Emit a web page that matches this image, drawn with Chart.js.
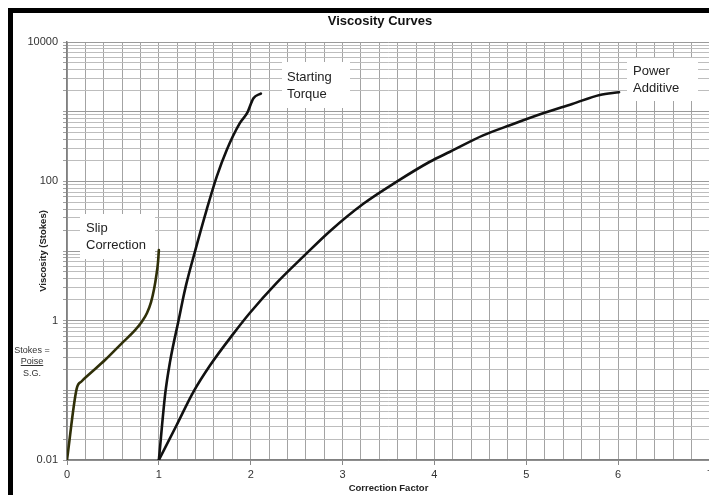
<!DOCTYPE html>
<html><head><meta charset="utf-8">
<script src="https://cdn.jsdelivr.net/npm/chart.js@4/dist/chart.umd.min.js"></script>
<style>
html,body{margin:0;padding:0;background:#fff;overflow:hidden;width:709px;height:495px;}
#wrap{position:absolute;left:0;top:0;width:760px;height:495px;}
.bar{position:absolute;background:#000;z-index:2;}
</style></head><body>
<div id="wrap"><canvas id="c" width="760" height="495" style="width:760px;height:495px"></canvas></div>
<div class="bar" style="left:8px;top:8px;width:701px;height:5px"></div>
<div class="bar" style="left:8px;top:8px;width:5px;height:487px"></div>
<script>
// ---- data ----
const slipX = [0, 0.105, 0.16, 0.232, 0.414, 0.596, 0.741, 0.82, 0.871, 0.915, 0.948, 0.975, 0.991, 1.0];
const slipY = [0.01, 0.105, 0.135, 0.166, 0.272, 0.473, 0.73, 0.99, 1.29, 1.85, 2.84, 4.68, 6.95, 10.3];

const torqueX = [1.0, 1.07, 1.12, 1.223, 1.26, 1.30, 1.39, 1.52, 1.63, 1.74, 1.88, 1.96, 2.03, 2.11];
const torqueY = [0.01, 0.091, 0.25, 1.14, 1.98, 3.4, 9.5, 39, 117, 285, 680, 950, 1560, 1820];

const powerX = [1.0, 1.19, 1.376, 1.558, 1.81, 1.99, 2.28, 2.58, 2.865, 3.23, 3.59, 3.95, 4.17, 4.53, 4.83, 5.19, 5.5, 5.8, 6.01];
const powerY = [0.01, 0.031, 0.095, 0.229, 0.647, 1.29, 3.46, 8.5, 19.4, 48, 99, 191, 266, 457, 645, 955, 1290, 1740, 1900];

const xTickLabels = [0, 1, 2, 3, 4, 5, 6, 7];
const yTickLabels = [0.01, 1, 100, 10000];

const seriesNames = ['Slip Correction', 'Starting Torque', 'Power Additive'];
const noteLabels = [
  {lines: ['Slip', 'Correction'], x: 0.207, y: 18.8, box: [-6, -18, 75, 45]},
  {lines: ['Starting', 'Torque'], x: 2.40, y: 2750, box: [-5, -19, 68, 46]},
  {lines: ['Power', 'Additive'], x: 6.166, y: 3360, box: [-6, -17, 71, 43]}
];
const stokesNote = ['Stokes =', 'Poise', 'S.G.'];

// ---- helpers ----
const pts = (xs, ys) => xs.map((x, i) => ({x: x, y: ys[i]}));
const xGrid = []; for (let k = 0; k <= 35; k++) xGrid.push(k / 5);
const yGrid = []; for (let e = -2; e <= 4; e++) { for (let m = 1; m <= 9; m++) { const v = m * Math.pow(10, e); if (v <= 10000 * 1.0001) yGrid.push(Number(v.toPrecision(6))); } }
const isDecade = v => Math.abs(Math.log10(v) - Math.round(Math.log10(v))) < 1e-9;
const isInt = v => Math.abs(v - Math.round(v)) < 1e-6;

const notesPlugin = {
  id: 'notes',
  beforeDatasetsDraw(chart) {
    const {ctx, scales: {x, y}} = chart;
    ctx.save();
    ctx.font = '13px "Liberation Sans", Arial, sans-serif';
    ctx.textBaseline = 'alphabetic';
    ctx.textAlign = 'left';
    noteLabels.forEach(n => {
      const px = Math.round(x.getPixelForValue(n.x));
      const py = Math.round(y.getPixelForValue(n.y));
      ctx.fillStyle = '#fff';
      ctx.fillRect(px + n.box[0], py + n.box[1], n.box[2], n.box[3]);
      ctx.fillStyle = '#222';
      n.lines.forEach((t, i) => ctx.fillText(t, px, py + i * 16.5));
    });
    ctx.restore();
  },
  afterDraw(chart) {
    const {ctx} = chart;
    ctx.save();
    ctx.font = '9px "Liberation Sans", Arial, sans-serif';
    ctx.fillStyle = '#333';
    ctx.textAlign = 'center';
    ctx.textBaseline = 'alphabetic';
    const cx = 32;
    ctx.fillText(stokesNote[0], cx, 352.5);
    ctx.fillText(stokesNote[1], cx, 364);
    const w = ctx.measureText(stokesNote[1]).width;
    ctx.strokeStyle = '#333'; ctx.lineWidth = 1;
    ctx.beginPath(); ctx.moveTo(cx - w / 2, 365.5); ctx.lineTo(cx + w / 2, 365.5); ctx.stroke();
    ctx.fillText(stokesNote[2], cx, 375.5);
    ctx.restore();
  }
};

const lineStyle = (color) => ({borderColor: color, backgroundColor: color, borderWidth: 2.6, pointRadius: 0, fill: false, cubicInterpolationMode: 'monotone', borderCapStyle: 'round', borderJoinStyle: 'round'});

new Chart(document.getElementById('c'), {
  type: 'line',
  data: {
    datasets: [
      Object.assign({label: seriesNames[0], data: pts(slipX, slipY)}, lineStyle('#2f2f08')),
      Object.assign({label: seriesNames[1], data: pts(torqueX, torqueY)}, lineStyle('#111')),
      Object.assign({label: seriesNames[2], data: pts(powerX, powerY)}, lineStyle('#111'))
    ]
  },
  plugins: [notesPlugin],
  options: {
    responsive: false,
    animation: false,
    layout: {padding: {left: 0, right: 0, top: 0, bottom: 0}},
    plugins: {
      legend: {display: false},
      tooltip: {enabled: false},
      title: {
        display: true, text: 'Viscosity Curves', color: '#111',
        font: {family: '"Liberation Sans", Arial, sans-serif', size: 13, weight: 'bold'},
        padding: {top: 14, bottom: 12.4}
      }
    },
    scales: {
      x: {
        type: 'linear', min: 0, max: 7,
        afterBuildTicks: s => { s.ticks = xGrid.map(v => ({value: v})); },
        afterFit: s => { s.height = 35; },
        ticks: {
          autoSkip: false, maxRotation: 0, padding: 3, color: '#333',
          font: {family: '"Liberation Sans", Arial, sans-serif', size: 11},
          callback: v => (isInt(v) && xTickLabels.includes(Math.round(v))) ? String(Math.round(v)) : ''
        },
        grid: {
          color: '#a3a3a3', lineWidth: 1, tickLength: 5,
          tickColor: c => (c.tick && isInt(c.tick.value)) ? '#888' : 'rgba(0,0,0,0)'
        },
        border: {display: true, color: '#808080', width: 1.5},
        title: {
          display: true, text: 'Correction Factor', color: '#222',
          font: {family: '"Liberation Sans", Arial, sans-serif', size: 9.5, weight: 'bold'},
          padding: {top: 0, bottom: 1}
        }
      },
      y: {
        type: 'logarithmic', min: 0.01, max: 10000,
        afterBuildTicks: s => { s.ticks = yGrid.map(v => ({value: v})); },
        afterFit: s => { s.width = 67; },
        ticks: {
          autoSkip: false, padding: 5, color: '#333',
          font: {family: '"Liberation Sans", Arial, sans-serif', size: 11},
          callback: v => { const m = yTickLabels.find(t => Math.abs(t - v) / t < 1e-6); return m !== undefined ? String(m) : ''; }
        },
        grid: {
          color: c => (c.tick && isDecade(c.tick.value)) ? '#9a9a9a' : '#bdbdbd',
          lineWidth: 1, tickLength: 4, tickColor: '#a0a0a0'
        },
        border: {display: true, color: '#808080', width: 1.5},
        title: {
          display: true, text: 'Viscosity (Stokes)', color: '#222',
          font: {family: '"Liberation Sans", Arial, sans-serif', size: 9.5, weight: 'bold'},
          padding: {top: 38, bottom: 0}
        }
      },
      yR: {
        type: 'linear', position: 'right', display: true,
        afterFit: s => { s.width = 50; },
        ticks: {display: false},
        grid: {display: false, drawOnChartArea: false},
        border: {display: false}
      }
    }
  }
});
</script>
</body></html>
